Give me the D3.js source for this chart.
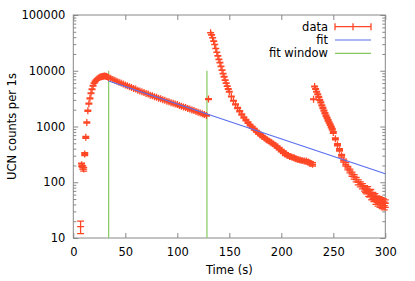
<!DOCTYPE html>
<html>
<head>
<meta charset="utf-8">
<script src="https://cdn.jsdelivr.net/npm/d3@7"></script>
<style>
  body { margin: 0; background: #fff; }
  text { font-family: "DejaVu Sans", sans-serif; font-size: 11.5px; fill: #000; }
</style>
</head>
<body>
<div id="chart"></div>
<script>
// rising edge (filling)
const riseTimes  = [7, 8, 9, 10, 11, 12, 13, 14, 15, 16, 17, 18, 19, 20, 21, 22, 23, 24, 25, 26, 27, 28, 29, 30, 31, 32, 33];
const riseCounts = [16, 205, 185, 172, 320, 640, 1180, 1920, 2560, 3200, 3950, 4650, 5400, 6000, 6400, 6800, 7100, 7350, 7550, 7700, 7800, 7900, 8000, 8050, 8000, 7900, 7750];

// storage period (inside the fit window)
const storeTimes  = [34, 36, 38, 40, 42, 44, 46, 48, 50, 52, 54, 56, 58, 60, 62, 64, 66, 68, 70, 72, 74, 76, 78, 80,
                     82, 84, 86, 88, 90, 92, 94, 96, 98, 100, 102, 104, 106, 108, 110, 112, 114, 116, 118, 120, 122, 124, 126, 128];
const storeCounts = [7600, 7300, 7000, 6750, 6450, 6250, 6000, 5800, 5550, 5400, 5150, 5000, 4800, 4700, 4480, 4350, 4200, 4080, 3900, 3820, 3650, 3560, 3430, 3350,
                     3220, 3150, 3020, 2960, 2850, 2780, 2680, 2610, 2520, 2470, 2380, 2310, 2240, 2190, 2100, 2060, 1980, 1930, 1860, 1810, 1740, 1700, 1640, 1580];

// first emptying
const empty1Times  = [130, 132, 133, 134, 135, 136, 137, 138, 139, 140, 141, 142, 143, 144, 145, 146, 147, 148, 149, 150,
                      152, 154, 156, 158, 160, 162, 164, 166, 168, 170, 172, 174, 176, 178, 180, 182, 184, 186, 188, 190,
                      192, 194, 196, 198, 200, 202, 204, 206, 208, 210, 212, 214, 216, 218, 220, 222, 224, 226, 228, 230];
const empty1Counts = [3100, 48000, 44000, 39000, 34000, 29500, 25000, 21500, 18500, 16000, 14000, 12000, 10300, 8900, 7800, 6800, 6000, 5300, 4700, 4200,
                      3450, 2900, 2500, 2150, 1880, 1650, 1450, 1300, 1170, 1060, 970, 890, 820, 760, 710, 660, 620, 580, 550, 520,
                      490, 460, 430, 400, 370, 345, 320, 305, 290, 285, 275, 265, 255, 250, 245, 240, 240, 230, 220, 210];

// second emptying
const empty2Times  = [231, 232, 233, 234, 235, 236, 237, 238, 239, 240, 241, 242, 243, 244, 245, 246, 247, 248, 249, 250,
                      252, 254, 256, 258, 260, 262, 264, 266, 268, 270, 272, 274, 276, 278,
                      280, 281, 282, 283, 284, 285, 286, 287, 288, 289, 290, 291, 292, 293, 294, 295, 296, 297, 298, 299, 300];
const empty2Counts = [3080, 5200, 4700, 4200, 3800, 3400, 3000, 2700, 2400, 2150, 1930, 1730, 1560, 1420, 1290, 1180, 1080, 980, 890, 780,
                      600, 470, 380, 300, 245, 210, 180, 160, 140, 125, 112, 100, 92, 85,
                      78, 74, 70, 75, 64, 62, 66, 56, 58, 52, 55, 47, 50, 44, 48, 42, 46, 40, 44, 38, 42];

// fit line (exponential = straight line on log axis), given by its two ends
const fitTimes  = [34, 300];
const fitCounts = [6550, 142];

// fit window edges
const windowTimes = [34, 128.5];
const windowTop = 10000;

const xTicks = [0, 50, 100, 150, 200, 250, 300];
const yTicks = [10, 100, 1000, 10000, 100000];
const legendLabels = ["data", "fit", "fit window"];

const width = 415, height = 281;
const plotLeft = 73.3, plotRight = 385.3, plotTop = 15, plotBottom = 238;
const red = "#ff4726", blue = "#5a6ef0", green = "#84c860", axisColor = "#888";

const svg = d3.select("#chart").append("svg")
    .attr("width", width)
    .attr("height", height);

const x = d3.scaleLinear().domain([0, 300]).range([plotLeft, plotRight]);
const y = d3.scaleLog().domain([10, 100000]).range([plotBottom, plotTop]);

// minor ticks 2..9 per decade
const yMinor = [];
yTicks.slice(0, -1).forEach(d => {
    for (let k = 2; k <= 9; k++) yMinor.push(d * k);
});

function styleAxis(g) {
    g.select(".domain").remove();
    g.selectAll(".tick line").attr("stroke", axisColor);
    g.selectAll(".tick text").style("font-size", "11.5px").attr("fill", "#000");
}

svg.append("g")
    .attr("transform", `translate(0,${plotBottom})`)
    .call(d3.axisBottom(x).tickValues(xTicks).tickSize(-5).tickSizeOuter(0).tickPadding(10))
    .call(styleAxis);
svg.append("g")
    .attr("transform", `translate(0,${plotTop})`)
    .call(d3.axisTop(x).tickValues(xTicks).tickSize(-5).tickSizeOuter(0).tickFormat(""))
    .call(styleAxis);
svg.append("g")
    .attr("transform", `translate(${plotLeft},0)`)
    .call(d3.axisLeft(y).tickValues(yTicks).tickSize(-5).tickSizeOuter(0).tickPadding(8).tickFormat(d3.format("d")))
    .call(styleAxis);
svg.append("g")
    .attr("transform", `translate(${plotLeft},0)`)
    .call(d3.axisLeft(y).tickValues(yMinor).tickSize(-3).tickSizeOuter(0).tickFormat(""))
    .call(styleAxis);
svg.append("g")
    .attr("transform", `translate(${plotRight},0)`)
    .call(d3.axisRight(y).tickValues(yTicks).tickSize(-5).tickSizeOuter(0).tickFormat(""))
    .call(styleAxis);
svg.append("g")
    .attr("transform", `translate(${plotRight},0)`)
    .call(d3.axisRight(y).tickValues(yMinor).tickSize(-3).tickSizeOuter(0).tickFormat(""))
    .call(styleAxis);

// border
svg.append("rect")
    .attr("x", plotLeft).attr("y", plotTop)
    .attr("width", plotRight - plotLeft).attr("height", plotBottom - plotTop)
    .attr("fill", "none")
    .attr("stroke", axisColor)
    .attr("stroke-width", 1);

// axis titles
svg.append("text")
    .attr("x", (plotLeft + plotRight) / 2)
    .attr("y", 274)
    .attr("text-anchor", "middle")
    .text("Time (s)");
svg.append("text")
    .attr("transform", `translate(16,${(plotTop + plotBottom) / 2}) rotate(-90)`)
    .attr("text-anchor", "middle")
    .text("UCN counts per 1s");

// fit window lines
svg.selectAll(".window")
    .data(windowTimes)
    .enter()
    .append("line")
    .attr("class", "window")
    .attr("x1", d => x(d)).attr("x2", d => x(d))
    .attr("y1", y(10)).attr("y2", y(windowTop))
    .attr("stroke", green)
    .attr("stroke-width", 1.2);

// data points
const data = [];
[[riseTimes, riseCounts], [storeTimes, storeCounts], [empty1Times, empty1Counts], [empty2Times, empty2Counts]]
    .forEach(([ts, cs]) => ts.forEach((t, i) => data.push({ t: t, c: cs[i] })));

const half = 3.5;
const pts = svg.append("g")
    .attr("stroke", red)
    .attr("stroke-width", 1.3)
    .attr("fill", "none");

pts.selectAll(".pt")
    .data(data)
    .enter()
    .append("path")
    .attr("class", "pt")
    .attr("d", d => {
        const px = x(d.t), py = y(d.c);
        const e = Math.sqrt(d.c);
        const y0 = y(Math.max(d.c - e, 10)), y1 = y(d.c + e);
        return `M${px - half},${py}H${px + half}M${px},${py - half}V${py + half}` +
               `M${px},${y0}V${y1}M${px - half},${y0}H${px + half}M${px - half},${y1}H${px + half}`;
    });

// fit line (drawn on top of the points)
svg.append("path")
    .datum(fitTimes.map((t, i) => ({ t: t, c: fitCounts[i] })))
    .attr("d", d3.line().x(d => x(d.t)).y(d => y(d.c)))
    .attr("fill", "none")
    .attr("stroke", blue)
    .attr("stroke-width", 1.2);

// legend
const legend = svg.append("g");
const rowY = [26.7, 40, 53.3];
const sampleX0 = 335, sampleX1 = 371;
legend.selectAll("text")
    .data(legendLabels)
    .enter()
    .append("text")
    .attr("x", 328)
    .attr("y", (d, i) => rowY[i])
    .attr("dy", "0.35em")
    .attr("text-anchor", "end")
    .text(d => d);

const mid = (sampleX0 + sampleX1) / 2;
legend.append("path")
    .attr("d", `M${sampleX0},${rowY[0]}H${sampleX1}M${sampleX0},${rowY[0] - half}V${rowY[0] + half}` +
               `M${sampleX1},${rowY[0] - half}V${rowY[0] + half}M${mid},${rowY[0] - half}V${rowY[0] + half}`)
    .attr("stroke", red)
    .attr("stroke-width", 1.3)
    .attr("fill", "none");
legend.append("line")
    .attr("x1", sampleX0).attr("x2", sampleX1)
    .attr("y1", rowY[1]).attr("y2", rowY[1])
    .attr("stroke", blue).attr("stroke-width", 1.2);
legend.append("line")
    .attr("x1", sampleX0).attr("x2", sampleX1)
    .attr("y1", rowY[2]).attr("y2", rowY[2])
    .attr("stroke", green).attr("stroke-width", 1.2);
</script>
</body>
</html>
